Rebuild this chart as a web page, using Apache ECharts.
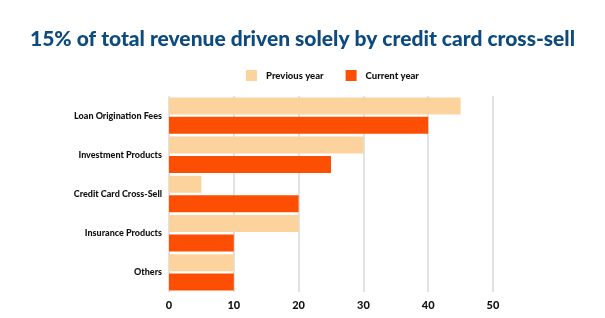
<!DOCTYPE html>
<html>
<head>
<meta charset="utf-8">
<script src="https://cdn.jsdelivr.net/npm/echarts@6/dist/echarts.min.js"></script>
<style>
  html, body { margin: 0; padding: 0; background: #fff; }
  #chart { width: 605px; height: 318px; }
</style>
</head>
<body>
<div id="chart"></div>
<script>
const categories = ['Loan Origination Fees', 'Investment Products', 'Credit Card Cross-Sell', 'Insurance Products', 'Others'];
const previousYear = [45, 30, 5, 20, 10];
const currentYear = [40, 25, 20, 10, 10];
const xTicks = [0, 10, 20, 30, 40, 50];

const chart = echarts.init(document.getElementById('chart'));
chart.setOption({
    backgroundColor: '#fff',
    title: {
        text: '15% of total revenue driven solely by credit card cross-sell',
        left: 'center',
        top: 24,
        textStyle: {
            fontFamily: 'Lato',
            fontWeight: 900,
            fontSize: 21,
            color: '#0d4a7e'
        }
    },
    legend: {
        top: 65,
        left: 241,
        itemWidth: 11,
        itemHeight: 11,
        itemGap: 22,
        icon: 'rect',
        textStyle: {
            fontFamily: 'Lato',
            fontWeight: 900,
            fontSize: 9.5,
            color: '#111',
            padding: [0, 0, 0, 4]
        }
    },
    grid: {
        left: 169,
        right: 112,
        top: 96,
        bottom: 26,
        containLabel: false
    },
    xAxis: {
        type: 'value',
        min: xTicks[0],
        max: xTicks[xTicks.length - 1],
        interval: 10,
        axisLine: { show: false },
        axisTick: { show: false },
        splitLine: { lineStyle: { color: '#d9d9d9', width: 1.5 } },
        axisLabel: {
            fontFamily: 'Lato',
            fontWeight: 900,
            fontSize: 11,
            color: '#111',
            margin: 8
        }
    },
    yAxis: {
        type: 'category',
        data: categories,
        inverse: true,
        axisLine: { show: false },
        axisTick: { show: false },
        axisLabel: {
            fontFamily: 'Lato',
            fontWeight: 900,
            fontSize: 9,
            color: '#111',
            margin: 7
        }
    },
    series: [
        {
            name: 'Previous year',
            type: 'bar',
            data: previousYear,
            barWidth: 17,
            barGap: '14%',
            itemStyle: { color: '#fdd39d' }
        },
        {
            name: 'Current year',
            type: 'bar',
            data: currentYear,
            barWidth: 17,
            itemStyle: { color: '#fc4f03' }
        }
    ]
});
</script>
</body>
</html>
